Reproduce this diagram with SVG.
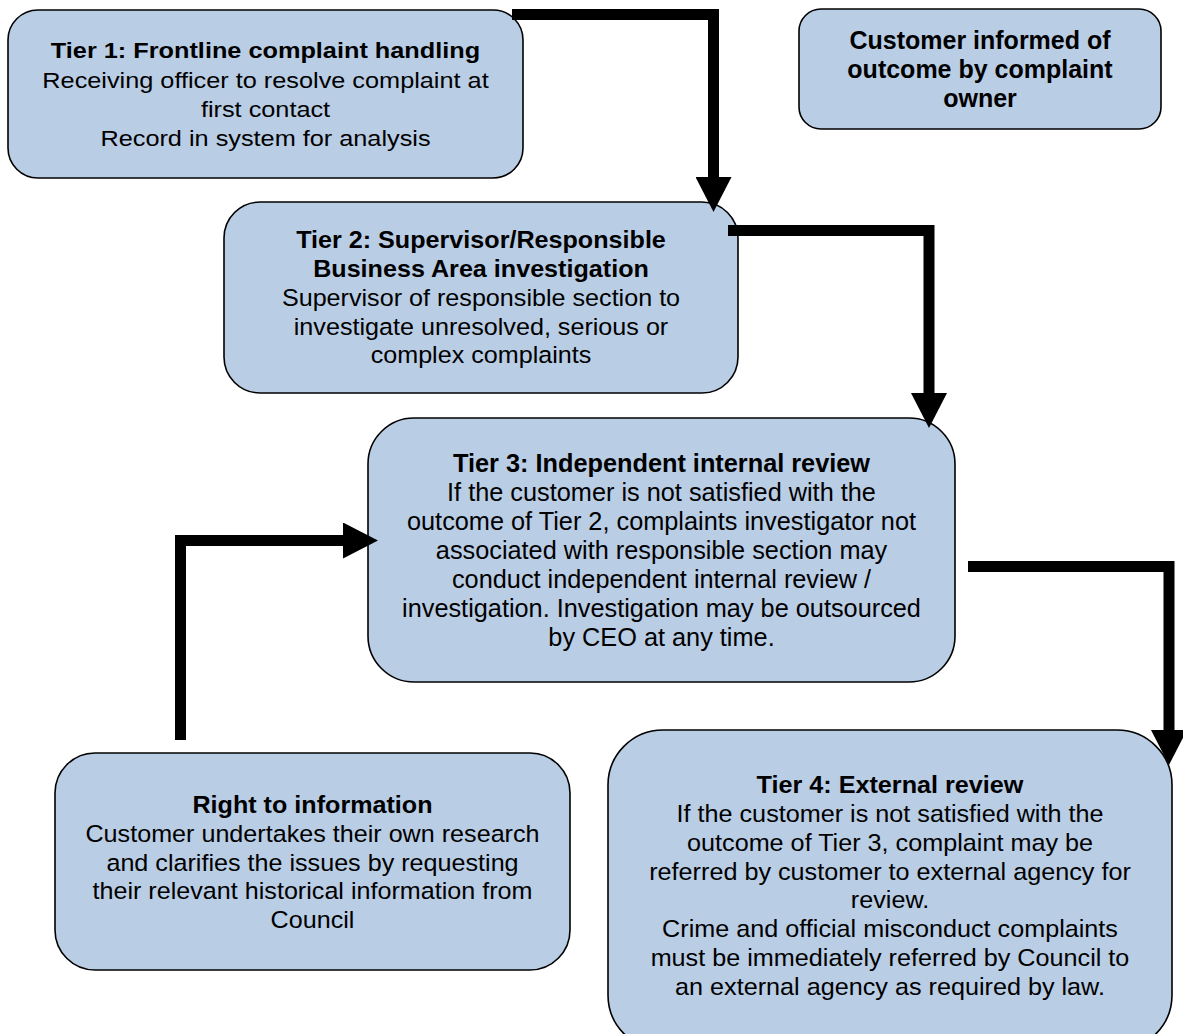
<svg xmlns="http://www.w3.org/2000/svg" width="1183" height="1034" viewBox="0 0 1183 1034">
  <style>
    .box { fill: #B9CDE5; stroke: #000000; stroke-width: 1.6; }
    .t { font-family: "Liberation Sans", Arial, sans-serif; fill: #000000; text-anchor: middle; }
    .b { font-weight: bold; }
    .conn { fill: none; stroke: #000000; stroke-width: 11; stroke-linejoin: miter; stroke-linecap: butt; }
  </style>
  <defs>
    <marker id="arrow" markerUnits="userSpaceOnUse" viewBox="0 0 35 36" markerWidth="35" markerHeight="36" refX="0" refY="18" orient="auto">
      <path d="M0,0 L35,18 L0,36 Z" fill="#000000"/>
    </marker>
  </defs>
  <rect width="1183" height="1034" fill="#FFFFFF"/>

  <g id="tier1">
    <rect class="box" x="8" y="10" width="515" height="168" rx="30" ry="30"/>
    <g transform="translate(265.5 0) scale(1.15 1)" class="t" font-size="22">
      <text class="t b" x="0" y="58">Tier 1: Frontline complaint handling</text>
      <text class="t" x="0" y="88">Receiving officer to resolve complaint at</text>
      <text class="t" x="0" y="117">first contact</text>
      <text class="t" x="0" y="146">Record in system for analysis</text>
    </g>
  </g>

  <g id="customer-informed">
    <rect class="box" x="799" y="9" width="362" height="120" rx="22" ry="22"/>
    <g class="t" font-size="25">
      <text class="t b" x="980" y="49">Customer informed of</text>
      <text class="t b" x="980" y="78">outcome by complaint</text>
      <text class="t b" x="980" y="107">owner</text>
    </g>
  </g>

  <g id="tier2">
    <rect class="box" x="224" y="202" width="514" height="191" rx="36" ry="36"/>
    <g transform="translate(481 0) scale(1.07 1)" class="t" font-size="23.5">
      <text class="t b" x="0" y="248.5">Tier 2: Supervisor/Responsible</text>
      <text class="t b" x="0" y="277.5">Business Area investigation</text>
      <text class="t" x="0" y="306">Supervisor of responsible section to</text>
      <text class="t" x="0" y="335">investigate unresolved, serious or</text>
      <text class="t" x="0" y="363.5">complex complaints</text>
    </g>
  </g>

  <g id="tier3">
    <rect class="box" x="368" y="418" width="587" height="264" rx="46" ry="46"/>
    <g class="t" font-size="25.3">
      <text class="t b" x="661.5" y="472">Tier 3: Independent internal review</text>
      <text class="t" x="661.5" y="501">If the customer is not satisfied with the</text>
      <text class="t" x="661.5" y="530">outcome of Tier 2, complaints investigator not</text>
      <text class="t" x="661.5" y="558.5">associated with responsible section may</text>
      <text class="t" x="661.5" y="587.5">conduct independent internal review /</text>
      <text class="t" x="661.5" y="616.5">investigation. Investigation may be outsourced</text>
      <text class="t" x="661.5" y="645.5">by CEO at any time.</text>
    </g>
  </g>

  <g id="right-to-information">
    <rect class="box" x="55" y="753" width="515" height="217" rx="40" ry="40"/>
    <g transform="translate(312.5 0) scale(1.07 1)" class="t" font-size="23.5">
      <text class="t b" x="0" y="813">Right to information</text>
      <text class="t" x="0" y="842">Customer undertakes their own research</text>
      <text class="t" x="0" y="871">and clarifies the issues by requesting</text>
      <text class="t" x="0" y="899.5">their relevant historical information from</text>
      <text class="t" x="0" y="928">Council</text>
    </g>
  </g>

  <g id="tier4">
    <rect class="box" x="608" y="730" width="564" height="320" rx="55" ry="55"/>
    <g transform="translate(890 0) scale(1.05 1)" class="t" font-size="24">
      <text class="t b" x="0" y="793">Tier 4: External review</text>
      <text class="t" x="0" y="822">If the customer is not satisfied with the</text>
      <text class="t" x="0" y="851">outcome of Tier 3, complaint may be</text>
      <text class="t" x="0" y="880">referred by customer to external agency for</text>
      <text class="t" x="0" y="908.5">review.</text>
      <text class="t" x="0" y="937.5">Crime and official misconduct complaints</text>
      <text class="t" x="0" y="966.5">must be immediately referred by Council to</text>
      <text class="t" x="0" y="995.5">an external agency as required by law.</text>
    </g>
  </g>

  <g id="connectors">
    <path class="conn" d="M512 14.5 H713.5 V177" marker-end="url(#arrow)"/>
    <path class="conn" d="M728 230.5 H929 V393" marker-end="url(#arrow)"/>
    <path class="conn" d="M968 566.5 H1169 V730" marker-end="url(#arrow)"/>
    <path class="conn" d="M180.5 740 V540.5 H343" marker-end="url(#arrow)"/>
  </g>
</svg>
